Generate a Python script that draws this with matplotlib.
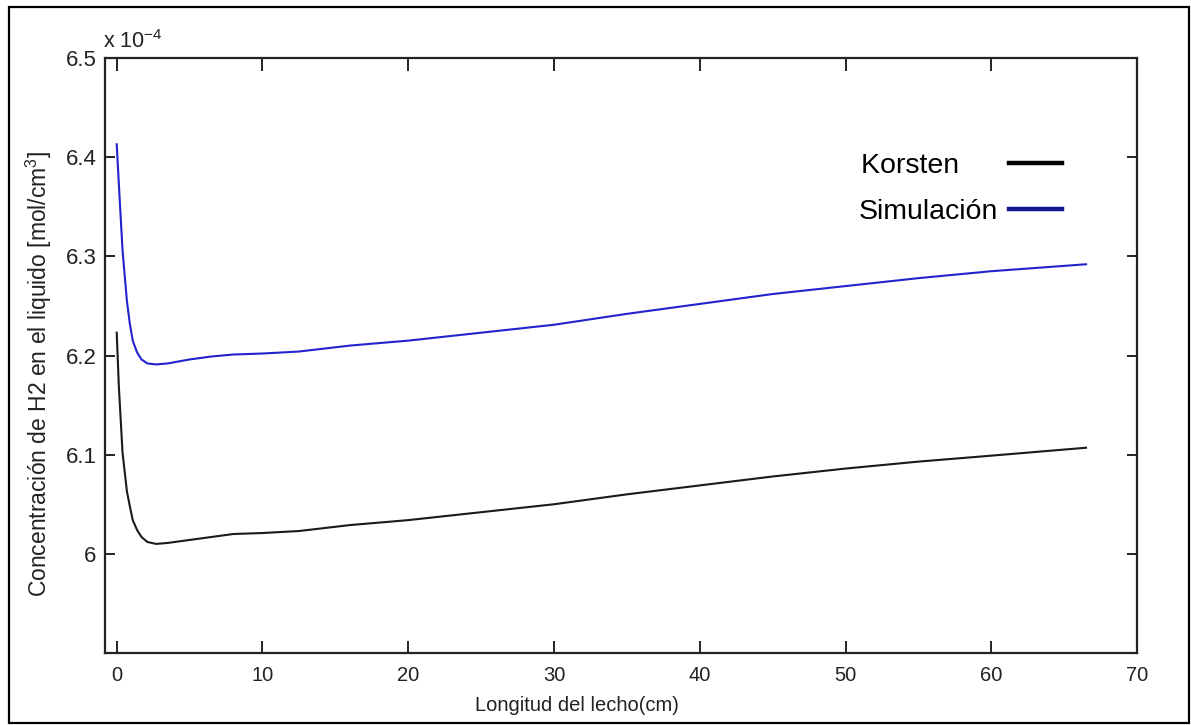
import matplotlib
matplotlib.use("Agg")
from matplotlib import pyplot as plt
from matplotlib.lines import Line2D
from matplotlib.patches import Rectangle

# longitud del lecho (cm)
x = [0, 0.15, 0.4, 0.7, 0.9, 1.1, 1.4, 1.7, 2.1, 2.7, 3.5, 5, 6.5, 8, 10,
     12.5, 16, 20, 25, 30, 35, 40, 45, 50, 55, 60, 66.5]
# concentracion de H2 en el liquido (x 1e-4 mol/cm3)
korsten = [6.223, 6.168, 6.102, 6.063, 6.048, 6.034, 6.024, 6.017, 6.012, 6.010,
           6.011, 6.014, 6.017, 6.020, 6.021, 6.023, 6.029, 6.034, 6.042, 6.050,
           6.060, 6.069, 6.078, 6.086, 6.093, 6.099, 6.107]
simulacion = [6.413, 6.372, 6.306, 6.255, 6.232, 6.215, 6.203, 6.196, 6.192, 6.191,
              6.192, 6.196, 6.199, 6.201, 6.202, 6.204, 6.210, 6.215, 6.223, 6.231,
              6.242, 6.252, 6.262, 6.270, 6.278, 6.285, 6.292]
xticks = [0, 10, 20, 30, 40, 50, 60, 70]
yticks = [6, 6.1, 6.2, 6.3, 6.4, 6.5]
ytick_labels = ["6", "6.1", "6.2", "6.3", "6.4", "6.5"]

plt.rcParams['font.family'] = ["Liberation Sans", "DejaVu Sans"]
plt.rcParams['mathtext.fontset'] = 'custom'
plt.rcParams['mathtext.rm'] = 'Liberation Sans'
plt.rcParams['mathtext.it'] = 'Liberation Sans:italic'
plt.rcParams['mathtext.bf'] = 'Liberation Sans:bold'

fig = plt.figure(figsize=(11.91, 7.25), dpi=100)
ax = fig.add_axes([0.0882, 0.0993, 0.8665, 0.8207])

ax.plot(x, korsten, color="#1a1a1a", lw=1.5)
ax.plot(x, simulacion, color="#2323cd", lw=1.5)

ax.set_xlim(-0.8, 70)
ax.set_ylim(5.9, 6.5)
ax.set_xticks(xticks)
ax.set_yticks(yticks)
ax.set_yticklabels(ytick_labels)
ax.tick_params(direction="in", top=True, right=True, width=1.4, colors="#222222")
ax.tick_params(axis="x", length=9, pad=9, labelsize=14.5)
ax.tick_params(axis="y", length=7, pad=6, labelsize=16)
for s in ax.spines.values():
    s.set_linewidth(1.6)
    s.set_color("#222222")

ax.text(-0.002, 1.009, r"x 10$^{-4}$", transform=ax.transAxes, fontsize=15.5,
        ha="left", va="bottom", color="#222222")

ax.set_xlabel("Longitud del lecho(cm)", fontsize=14.5, color="#222222")
ax.xaxis.set_label_coords(0.457, -0.072)
ax.set_ylabel(r"Concentración de H2 en el liquido [mol/cm$^3$]", fontsize=16.5,
              color="#222222")
ax.yaxis.set_label_coords(-0.049, 0.469)

handles = [Line2D([], [], color="black", lw=3.2),
           Line2D([], [], color="#16168f", lw=3.2)]
leg = ax.legend(handles, ["Korsten\u00a0\u00a0\u00a0\u00a0\u00a0", "Simulación"],
                loc="center", bbox_to_anchor=(0.829, 0.780), frameon=False,
                markerfirst=False, handlelength=1.85, handletextpad=0.38,
                labelspacing=0.73, prop={"family": "Liberation Sans", "size": 20.5})

fig.patches.append(Rectangle((9 / 1191, 2 / 725), 1180 / 1191, 716 / 725,
                             transform=fig.transFigure, fill=False,
                             edgecolor="black", lw=1.6))

plt.savefig("out.png", dpi=100)
